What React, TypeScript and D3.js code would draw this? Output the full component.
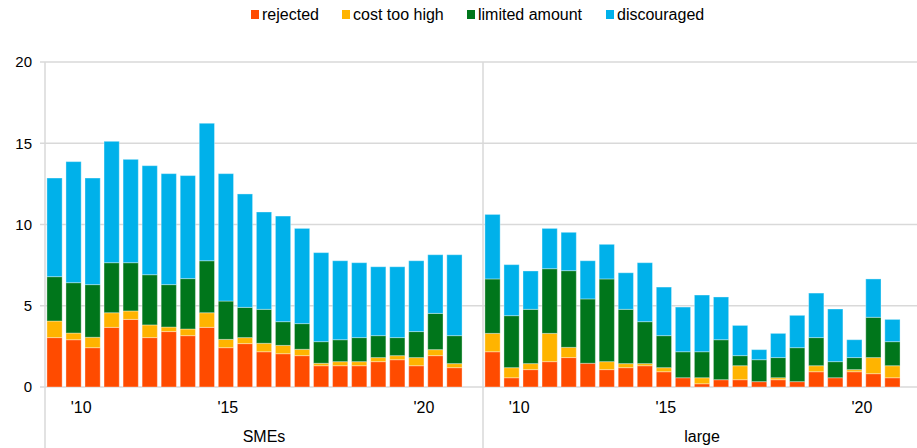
import { useRef, useEffect } from 'react';
import * as d3 from 'd3';

// survey waves, two panels
const panels = ['SMEs', 'large'];
const seriesNames = ['rejected', 'cost too high', 'limited amount', 'discouraged'];
const colors = ['#ff4b00', '#ffb400', '#00761b', '#00b1ea'];

const smeRejected = [3.04, 2.91, 2.42, 3.67, 4.16, 3.04, 3.41, 3.16, 3.67, 2.42, 2.67, 2.17, 2.05, 1.93, 1.31, 1.31, 1.31, 1.56, 1.68, 1.31, 1.93, 1.19];
const smeCost = [1.02, 0.41, 0.64, 0.9, 0.52, 0.78, 0.28, 0.41, 0.9, 0.51, 0.37, 0.52, 0.51, 0.39, 0.15, 0.25, 0.25, 0.25, 0.25, 0.5, 0.37, 0.25];
const smeLimited = [2.73, 3.1, 3.24, 3.08, 2.97, 3.09, 2.61, 3.1, 3.2, 2.36, 1.86, 2.09, 1.46, 1.58, 1.33, 1.35, 1.48, 1.35, 1.11, 1.6, 2.23, 1.72];
const smeDiscouraged = [6.07, 7.45, 6.56, 7.47, 6.36, 6.71, 6.83, 6.34, 8.46, 7.84, 6.98, 5.99, 6.5, 5.86, 5.48, 4.86, 4.61, 4.24, 4.36, 4.36, 3.61, 4.98];

const largeRejected = [2.17, 0.57, 1.07, 1.56, 1.81, 1.46, 1.07, 1.19, 1.31, 0.94, 0.57, 0.2, 0.45, 0.45, 0.33, 0.45, 0.33, 0.94, 0.57, 0.94, 0.82, 0.57];
const largeCost = [1.13, 0.62, 0.37, 1.74, 0.63, 0.0, 0.49, 0.25, 0.13, 0.25, 0.0, 0.37, 0.0, 0.86, 0.0, 0.12, 0.0, 0.37, 0.0, 0.13, 0.99, 0.74];
const largeLimited = [3.35, 3.2, 3.34, 3.98, 4.72, 3.96, 5.09, 3.34, 2.58, 1.97, 1.6, 1.6, 2.46, 0.62, 1.35, 1.24, 2.09, 1.73, 0.99, 0.74, 2.48, 1.48];
const largeDiscouraged = [3.97, 3.14, 2.36, 2.48, 2.36, 2.35, 2.13, 2.25, 3.63, 2.99, 2.75, 3.49, 2.63, 1.86, 0.62, 1.49, 1.99, 2.74, 3.24, 1.1, 2.36, 1.37];

const xTickLabels = ["'10", "'15", "'20"];
const xTickWave = [1.4, 9.1, 19.4]; // position in wave units
const yTicks = [0, 5, 10, 15, 20];

const W = 917;
const H = 448;

export default function App() {
  const svgRef = useRef<SVGSVGElement>(null);

  useEffect(() => {
    const svg = d3.select(svgRef.current);
    svg.selectAll('*').remove();

    const left = 45;
    const panelW = 438;
    const top = 62;
    const bottom = 387;
    const font = '"Liberation Sans", Arial, sans-serif';

    const y = d3.scaleLinear().domain([0, 20]).range([bottom, top]);

    // gridlines
    svg
      .append('g')
      .selectAll('line')
      .data(yTicks)
      .join('line')
      .attr('x1', left - 5)
      .attr('x2', left + panelW * 2)
      .attr('y1', (d) => y(d))
      .attr('y2', (d) => y(d))
      .attr('stroke', '#d9d9d9')
      .attr('stroke-width', 1.5);

    svg
      .append('g')
      .selectAll('text')
      .data(yTicks)
      .join('text')
      .attr('x', 32)
      .attr('y', (d) => y(d))
      .attr('dy', '0.35em')
      .attr('text-anchor', 'end')
      .attr('font-family', font)
      .attr('font-size', 15)
      .attr('fill', '#000')
      .text((d) => d);

    const allData = [
      [smeRejected, smeCost, smeLimited, smeDiscouraged],
      [largeRejected, largeCost, largeLimited, largeDiscouraged],
    ];

    panels.forEach((name, p) => {
      const x0 = left + p * panelW;
      const x = d3
        .scaleBand<number>()
        .domain(d3.range(23))
        .range([x0, x0 + panelW])
        .paddingInner(0.2)
        .paddingOuter(0.1);

      const rows = allData[p][0].map((_, i) => {
        const r: any = { i };
        seriesNames.forEach((s, k) => (r[s] = allData[p][k][i]));
        return r;
      });
      const stacked = d3.stack().keys(seriesNames)(rows);

      const g = svg.append('g');
      g.selectAll('g')
        .data(stacked)
        .join('g')
        .attr('fill', (_, k) => colors[k])
        .selectAll('rect')
        .data((d) => d)
        .join('rect')
        .attr('x', (d: any) => x(d.data.i)!)
        .attr('width', x.bandwidth())
        .attr('y', (d) => y(d[1]))
        .attr('height', (d) => Math.max(0, y(d[0]) - y(d[1])))
        .attr('stroke', '#fff')
        .attr('stroke-opacity', 0.35)
        .attr('stroke-width', 1);

      // tick labels
      const step = x.step();
      g.selectAll('text.tick')
        .data(xTickLabels)
        .join('text')
        .attr('class', 'tick')
        .attr('x', (_, k) => x(0)! + x.bandwidth() / 2 + xTickWave[k] * step)
        .attr('y', 407)
        .attr('dy', '0.35em')
        .attr('text-anchor', 'middle')
        .attr('font-family', font)
        .attr('font-size', 16)
        .text((d) => d);

      g.append('text')
        .attr('x', x0 + panelW / 2)
        .attr('y', 436)
        .attr('dy', '0.35em')
        .attr('text-anchor', 'middle')
        .attr('font-family', font)
        .attr('font-size', 16)
        .text(name);

      // panel separator / axis
      g.append('line')
        .attr('x1', x0)
        .attr('x2', x0)
        .attr('y1', top)
        .attr('y2', H)
        .attr('stroke', '#d9d9d9')
        .attr('stroke-width', 1.5);
    });

    // legend
    const legendX = [251, 342, 467, 606];
    const lg = svg
      .append('g')
      .selectAll('g')
      .data(seriesNames)
      .join('g')
      .attr('transform', (_, k) => `translate(${legendX[k]},14)`);
    lg.append('rect')
      .attr('x', 0)
      .attr('y', -4)
      .attr('width', 8)
      .attr('height', 9)
      .attr('fill', (_, k) => colors[k]);
    lg.append('text')
      .attr('x', 11)
      .attr('dy', '0.35em')
      .attr('font-family', font)
      .attr('font-size', 16)
      .text((d) => d);
  }, []);

  return (
    <svg
      ref={svgRef}
      width={W}
      height={H}
      style={{ position: 'absolute', left: 0, top: 0, background: '#fff' }}
    />
  );
}
